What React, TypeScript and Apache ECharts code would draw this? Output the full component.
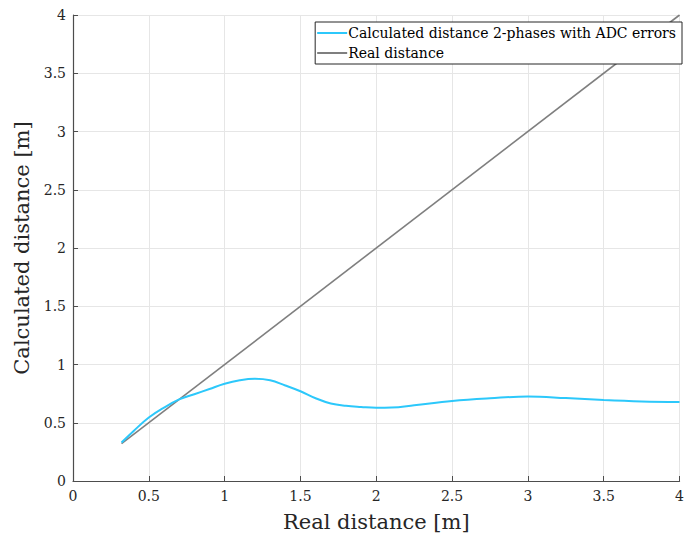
import React, { useEffect, useRef } from "react";
import * as echarts from "echarts";

const calcX = [0.32, 0.4, 0.5, 0.6, 0.7, 0.8, 0.9, 1.0, 1.1, 1.2, 1.3, 1.4, 1.5, 1.6, 1.7, 1.8, 1.9, 2.0, 2.1, 2.25, 2.5, 2.75, 3.0, 3.25, 3.5, 3.75, 4.0];
const calcY = [0.33, 0.43, 0.545, 0.63, 0.70, 0.745, 0.79, 0.835, 0.865, 0.878, 0.865, 0.82, 0.77, 0.71, 0.665, 0.645, 0.635, 0.628, 0.63, 0.65, 0.687, 0.71, 0.725, 0.712, 0.695, 0.683, 0.678];
const realX = [0.32, 4.0];
const realY = [0.32, 4.0];
const seriesNames = ["Calculated distance 2-phases with ADC errors", "Real distance"];
const xTitle = "Real distance [m]";
const yTitle = "Calculated distance [m]";

const FONT = "'DejaVu Serif', 'Liberation Serif', serif";

export default function App() {
  const ref = useRef<HTMLDivElement>(null);
  useEffect(() => {
    const chart = echarts.init(ref.current!, null, { renderer: "svg" });
    const axisCommon = {
      type: "value" as const,
      min: 0,
      max: 4,
      interval: 0.5,
      nameLocation: "middle" as const,
      nameTextStyle: { fontFamily: FONT, fontSize: 21, color: "#262626" },
      axisLine: { show: true, lineStyle: { color: "#4d4d4d", width: 1.2 } },
      axisTick: { show: true, inside: true, length: 5, lineStyle: { color: "#4d4d4d" } },
      axisLabel: {
        fontFamily: FONT,
        fontSize: 14,
        color: "#262626",
        formatter: (v: number) => String(v),
      },
      splitLine: { show: true, lineStyle: { color: "#e6e6e6", width: 1 } },
    };
    chart.setOption({
      animation: false,
      backgroundColor: "#ffffff",
      grid: { left: 73, right: 3, top: 15, bottom: 62, containLabel: false },
      xAxis: { ...axisCommon, name: xTitle, nameGap: 30, axisLabel: { ...axisCommon.axisLabel, margin: 8 } },
      yAxis: { ...axisCommon, name: yTitle, nameGap: 33, axisLabel: { ...axisCommon.axisLabel, margin: 7 } },
      legend: {
        orient: "vertical",
        right: 5,
        top: 22,
        backgroundColor: "#ffffff",
        borderColor: "#262626",
        borderWidth: 1,
        borderRadius: 0,
        padding: [4, 6, 4, 2],
        itemGap: 6,
        itemWidth: 30,
        itemHeight: 2,
        icon: "rect",
        textStyle: { fontFamily: FONT, fontSize: 14, color: "#000", padding: [0, 0, 0, -4] },
        data: seriesNames,
      },
      series: [
        {
          name: seriesNames[0],
          type: "line",
          data: calcX.map((x, i) => [x, calcY[i]]),
          smooth: 0.4,
          showSymbol: false,
          symbol: "none",
          lineStyle: { color: "#2cc8fb", width: 2 },
          itemStyle: { color: "#2cc8fb" },
          z: 3,
        },
        {
          name: seriesNames[1],
          type: "line",
          data: realX.map((x, i) => [x, realY[i]]),
          showSymbol: false,
          symbol: "none",
          lineStyle: { color: "#7f7f7f", width: 1.6 },
          itemStyle: { color: "#7f7f7f" },
          z: 2,
        },
      ],
    });
    return () => chart.dispose();
  }, []);
  return <div ref={ref} style={{ width: 687, height: 543, position: "absolute", left: 0, top: 0 }} />;
}
